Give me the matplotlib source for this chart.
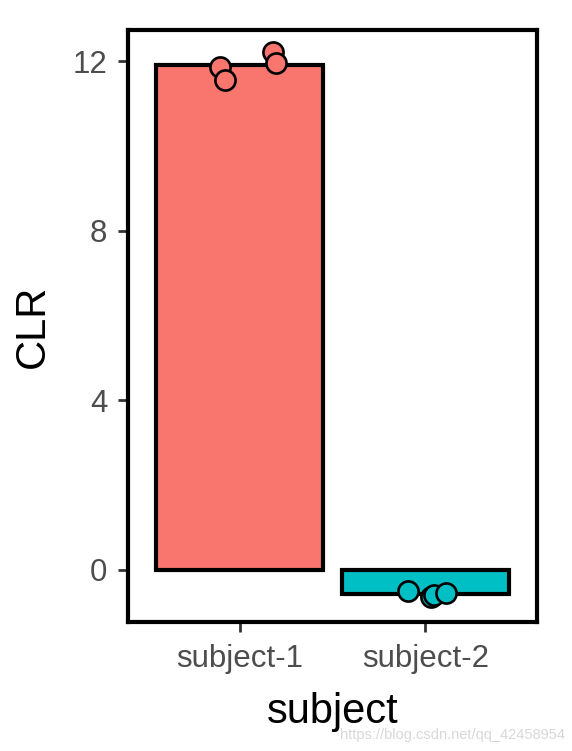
import matplotlib
matplotlib.use("Agg")
import matplotlib.pyplot as plt
import numpy as np

categories = ["subject-1", "subject-2"]
point_values = {
    "subject-1": [11.87, 11.57, 12.21, 11.96],
    "subject-2": [-0.49, -0.64, -0.59, -0.55],
}
point_jitter = {
    "subject-1": [-0.105, -0.08, 0.18, 0.197],
    "subject-2": [-0.094, 0.03, 0.048, 0.11],
}
colors = ["#F8766D", "#00BFC4"]
yticks = [0, 4, 8, 12]

plt.rcParams['font.family'] = ['Liberation Sans', 'DejaVu Sans']

fig = plt.figure(figsize=(5.72, 7.51), dpi=100)
ax = fig.add_axes([128/572, 1-622/751, (537-128)/572, (622-30)/751])

x = np.arange(1, len(categories)+1)
means = [np.mean(point_values[c]) for c in categories]
ax.bar(x, means, width=0.9, color=colors, edgecolor="black", linewidth=3.0, zorder=2)
for xi, c, col in zip(x, categories, colors):
    ax.plot(xi + np.array(point_jitter[c]), point_values[c], 'o', ms=14.5,
            mfc=col, mec="black", mew=1.9, zorder=3, linestyle='none')

ax.set_xlim(0.4, 2.6)
ax.set_ylim(-1.23, 12.74)
ax.set_xticks(x)
ax.set_xticklabels(categories)
ax.set_yticks(yticks)
ax.tick_params(axis='both', length=7, width=2, color="#333333", labelcolor="#4D4D4D",
               labelsize=22.5)
ax.tick_params(axis='y', pad=8)
ax.tick_params(axis='x', pad=9)
for s in ax.spines.values():
    s.set_linewidth(3.0)
    s.set_color("black")
ax.set_xlabel("subject", fontsize=30, labelpad=13)
ax.set_ylabel("CLR", fontsize=30, labelpad=14)

fig.text(0.988, 0.012, "https://blog.csdn.net/qq_42458954", ha="right", va="bottom",
         fontsize=10.5, color="#d8d8d8")

fig.savefig("out.png", dpi=100)
